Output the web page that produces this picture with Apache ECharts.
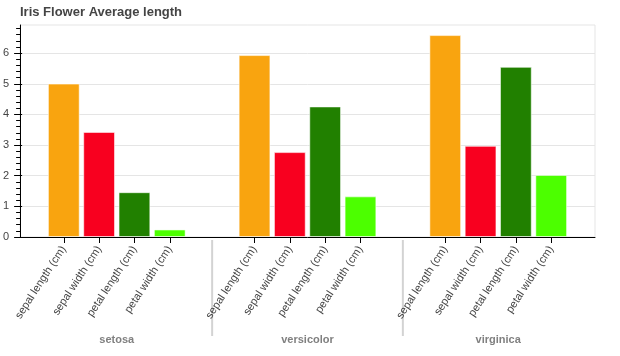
<!DOCTYPE html>
<html>
<head>
<meta charset="utf-8">
<script src="https://cdn.jsdelivr.net/npm/echarts@6/dist/echarts.min.js"></script>
<style>
html,body{margin:0;padding:0;background:#fff;}
#chart{width:620px;height:356px;}
</style>
</head>
<body>
<div id="chart"></div>
<script>
// ---- data ----
const factors = ['sepal length (cm)', 'sepal width (cm)', 'petal length (cm)', 'petal width (cm)'];
const species = ['setosa', 'versicolor', 'virginica'];
const setosa = [5.006, 3.428, 1.462, 0.246];
const versicolor = [5.936, 2.770, 4.260, 1.326];
const virginica = [6.588, 2.974, 5.552, 2.026];
const yTicks = [0, 1, 2, 3, 4, 5, 6];
const yMax = 6.917;

// ---- layout / style ----
const values = [setosa, versicolor, virginica];
const barColors = ['#f9a40f', '#f8001f', '#218000', '#4cff00'];
const FONT = 'Liberation Sans, Helvetica, Arial, sans-serif';
const plotLeft = 20, plotRight = 595, plotTop = 25, plotBottom = 237;
const pad = 0.74, gp = 1.4;
const units = 2 * pad + factors.length * species.length + gp * (species.length - 1);
const u = (plotRight - plotLeft) / units;
const groupStep = factors.length + gp;

const minorTicks = [];
for (let v = 0; v < yMax; v += 0.2) {
  const r = Math.round(v * 10) / 10;
  if (Math.abs(r - Math.round(r)) > 1e-6) minorTicks.push(r);
}

const grids = [{
  left: plotLeft, top: plotTop, width: plotRight - plotLeft, height: plotBottom - plotTop,
  show: true, borderColor: '#e5e5e5', borderWidth: 1, backgroundColor: 'transparent'
}];
const xAxes = [{
  gridIndex: 0, type: 'value', min: 0, max: 1,
  axisLine: { show: true, onZero: false, lineStyle: { color: '#000', width: 1 } },
  axisTick: { show: false }, axisLabel: { show: false }, splitLine: { show: false }
}];
const yAxes = [{
  gridIndex: 0, type: 'value', min: 0, max: yMax, interval: 1, position: 'left',
  axisLine: { show: true, lineStyle: { color: '#000', width: 1 } },
  axisTick: { show: true, length: 6, customValues: yTicks, lineStyle: { color: '#000' } },
  axisLabel: { show: true, customValues: yTicks, fontSize: 11, color: '#444', margin: 11, fontFamily: FONT },
  splitLine: { show: true, lineStyle: { color: '#e5e5e5', width: 1 } }
}, {
  gridIndex: 0, type: 'value', min: 0, max: yMax, position: 'left', offset: 0,
  axisLine: { show: false },
  axisTick: { show: true, length: 4, customValues: minorTicks, lineStyle: { color: '#000' } },
  axisLabel: { show: false }, splitLine: { show: false }
}, {
  gridIndex: 0, type: 'value', min: 0, max: yMax, position: 'left', offset: 0,
  axisLine: { show: false },
  axisTick: { show: true, inside: true, length: 2, customValues: yTicks, lineStyle: { color: '#000' } },
  axisLabel: { show: false }, splitLine: { show: false }
}];
const series = [];
const graphics = [];

species.forEach((sp, i) => {
  const gi = i + 1;
  grids.push({
    left: plotLeft + (pad + i * groupStep) * u, top: plotTop,
    width: factors.length * u, height: plotBottom - plotTop
  });
  xAxes.push({
    gridIndex: gi, type: 'category', data: factors,
    axisLine: { show: false },
    axisTick: { show: true, alignWithLabel: true, length: 6, lineStyle: { color: '#000' } },
    axisLabel: { interval: 0, rotate: 57, fontSize: 11, color: '#444', margin: 10, fontFamily: FONT },
    splitLine: { show: false },
    name: sp, nameLocation: 'middle', nameGap: 97,
    nameTextStyle: { fontSize: 11, fontWeight: 'bold', color: '#808080', fontFamily: FONT }
  });
  yAxes.push({
    gridIndex: gi, type: 'value', min: 0, max: yMax, show: false
  });
  series.push({
    type: 'bar', xAxisIndex: gi, yAxisIndex: 3 + i,
    data: values[i], barWidth: '90%',
    itemStyle: {
      color: p => barColors[p.dataIndex],
      borderColor: 'rgba(255,255,255,0.55)', borderWidth: 1
    },
    emphasis: { disabled: true }
  });
  if (i > 0) {
    const x = plotLeft + (pad + i * groupStep - gp / 2) * u;
    graphics.push({
      type: 'line', shape: { x1: x, y1: plotBottom + 3, x2: x, y2: plotBottom + 99 },
      style: { stroke: '#d3d3d3', lineWidth: 2 }, silent: true
    });
  }
});

const chart = echarts.init(document.getElementById('chart'), null, { renderer: 'canvas' });
chart.setOption({
  animation: false,
  backgroundColor: '#fff',
  textStyle: { fontFamily: FONT },
  title: {
    text: 'Iris Flower Average length', left: 20, top: 6, padding: 0,
    textStyle: { fontSize: 13, fontWeight: 'bold', color: '#444', fontFamily: FONT }
  },
  grid: grids,
  xAxis: xAxes,
  yAxis: yAxes,
  series: series,
  graphic: graphics
});
</script>
</body>
</html>
